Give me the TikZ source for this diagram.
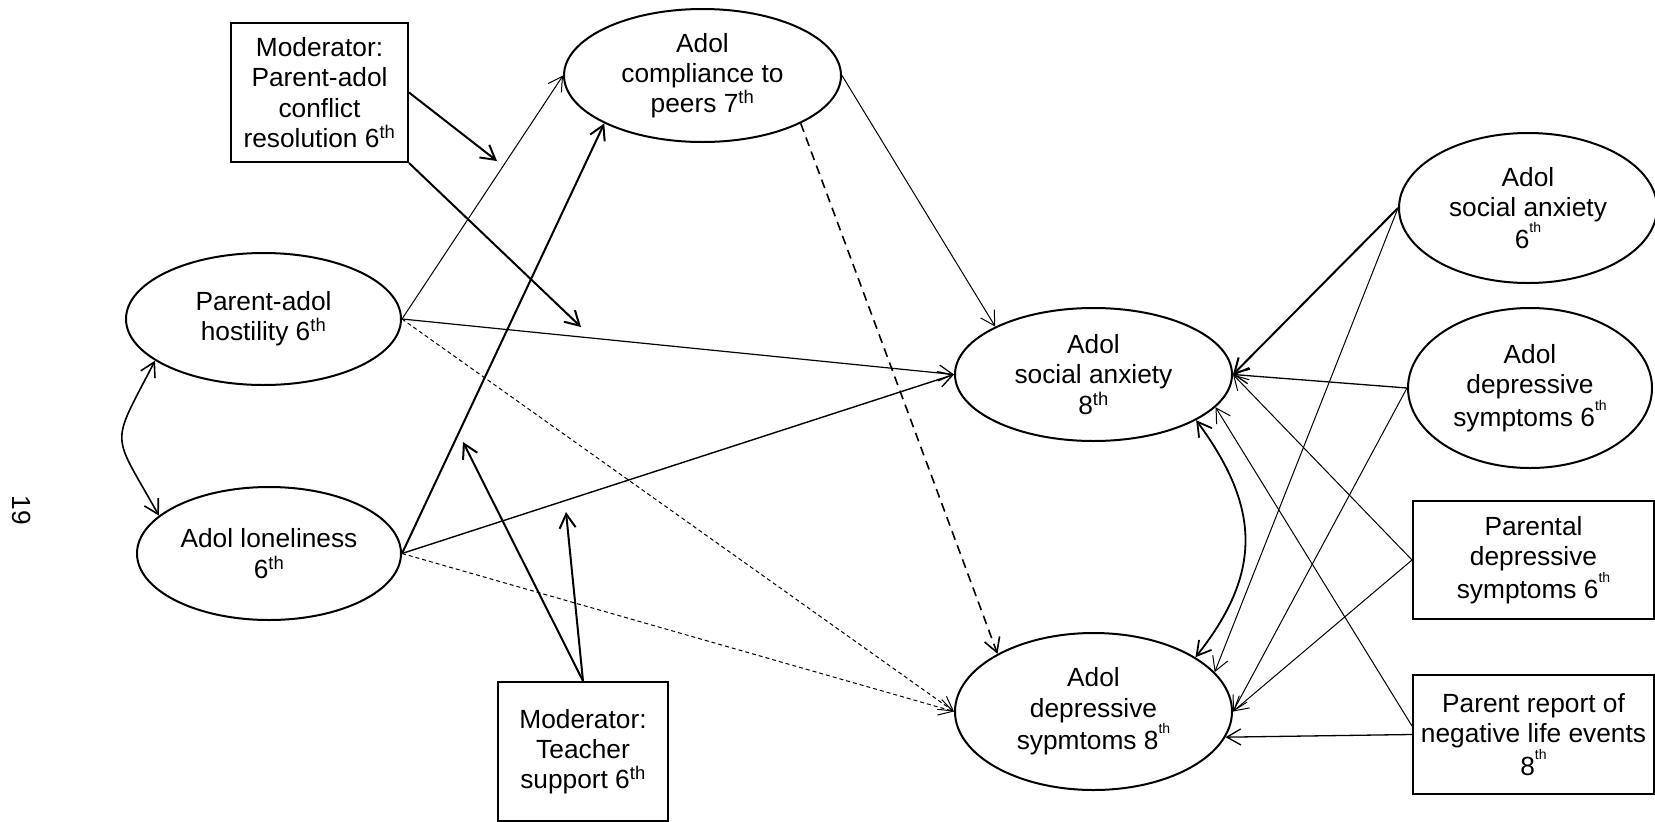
\documentclass[tikz,border=0pt]{standalone}
\usepackage{fontspec}
\setmainfont{Liberation Sans}
\usetikzlibrary{shapes.geometric,arrows.meta}
\newcommand\hisup[1]{\raisebox{0.6em}{\fontsize{14}{14}\selectfont #1}}
\begin{document}
\begin{tikzpicture}[x=1pt,y=-1pt,
  font={\fontsize{26.3}{30.3}\selectfont},
  ell/.style={ellipse,draw,line width=2pt,inner sep=0pt,align=center},
  box/.style={rectangle,draw,line width=2pt,inner sep=0pt,align=center},
  arr/.style={-{Straight Barb[length=14pt,width=16pt]}},
  darr/.style={{Straight Barb[length=14pt,width=16pt]}-{Straight Barb[length=14pt,width=16pt]}},
  thinln/.style={line width=1pt},
  thickln/.style={line width=2pt},
  dotdash/.style={line width=1pt,dash pattern=on 4pt off 3pt},
  bigdash/.style={line width=1.6pt,dash pattern=on 9pt off 6pt}]
\useasboundingbox (0,0) rectangle (1655,822);

% nodes
\node[ell,minimum width=277pt,minimum height=133pt] (comp) at (702.5,75.5) {Adol\\compliance to\\peers 7\textsuperscript{th}};
\node[ell,minimum width=275pt,minimum height=132pt] (host) at (263.5,319) {Parent-adol\\hostility 6\textsuperscript{th}};
\node[ell,minimum width=264pt,minimum height=133pt] (lone) at (269,553.5) {Adol loneliness\\6\textsuperscript{th}};
\node[ell,minimum width=277pt,minimum height=133pt] (sa8) at (1093.5,374.5) {Adol\\social anxiety\\8\textsuperscript{th}};
\node[ell,minimum width=277pt,minimum height=157pt] (ds8) at (1093.5,711.5) {Adol\\depressive\\sypmtoms 8\hisup{th}};
\node[ell,minimum width=258pt,minimum height=150pt] (sa6) at (1528,208) {Adol\\social anxiety\\6\hisup{th}};
\node[ell,minimum width=244pt,minimum height=160pt] (ds6) at (1530,388) {Adol\\depressive\\symptoms 6\hisup{th}};
\node[box,minimum width=241pt,minimum height=118pt] (par) at (1533.5,560) {Parental\\depressive\\symptoms 6\hisup{th}};
\node[box,minimum width=241pt,minimum height=119pt] (rep) at (1533.5,734.5) {Parent report of\\negative life events\\8\hisup{th}};
\node[box,minimum width=177pt,minimum height=139pt] (mod1) at (319.5,92.5) {Moderator:\\Parent-adol\\conflict\\resolution 6\textsuperscript{th}};
\node[box,minimum width=170pt,minimum height=139pt] (mod2) at (583,751.5) {Moderator:\\Teacher\\support 6\textsuperscript{th}};
\node[rotate=-90] (pg) at (22,510) {19};

% moderator targets
\coordinate (m1a) at (497,161);
\coordinate (m1b) at (581,327);
\coordinate (m2a) at (463,442);
\coordinate (m2b) at (566,512);

% left part
\draw[arr,thinln] (host.east) -- (comp.west);
\draw[arr,thickln] (lone.east) -- (comp.206);
\draw[arr,thinln] (comp.east) -- (sa8.154);
\draw[arr,bigdash] (comp.334) -- (ds8.149);
\draw[arr,line width=1.2pt] (host.east) -- (sa8.west);
\draw[arr,line width=1.4pt] (lone.east) -- (sa8.west);
\draw[arr,dotdash] (host.east) -- (ds8.west);
\draw[arr,dotdash] (lone.east) -- (ds8.west);
\draw[arr,thickln] (mod1.east) -- (m1a);
\draw[arr,thickln] (mod1.south east) -- (m1b);
\draw[arr,thickln] (mod2.north) -- (m2a);
\draw[arr,thickln] (mod2.north) -- (m2b);
\draw[darr,line width=1.6pt] (host.201) .. controls (110,448) and (111,430) .. (lone.161);

% right part
\draw[darr,line width=1.8pt] (sa8.-24) .. controls (1260,507) and (1263,572) .. (ds8.28);
\draw[arr,thickln] (sa6.west) -- (sa8.east);
\draw[arr,thinln] (sa6.west) -- (ds8.18);
\draw[arr,line width=1.3pt] (ds6.west) -- (sa8.east);
\draw[arr,thinln] (ds6.west) -- (ds8.east);
\draw[arr,thinln] (par.west) -- (sa8.east);
\draw[arr,thinln] (par.west) -- (ds8.east);
\draw[arr,thinln] (rep.176) -- (sa8.-15);
\draw[arr,line width=1.3pt] (rep.west) -- (ds8.-11);
\end{tikzpicture}
\end{document}
